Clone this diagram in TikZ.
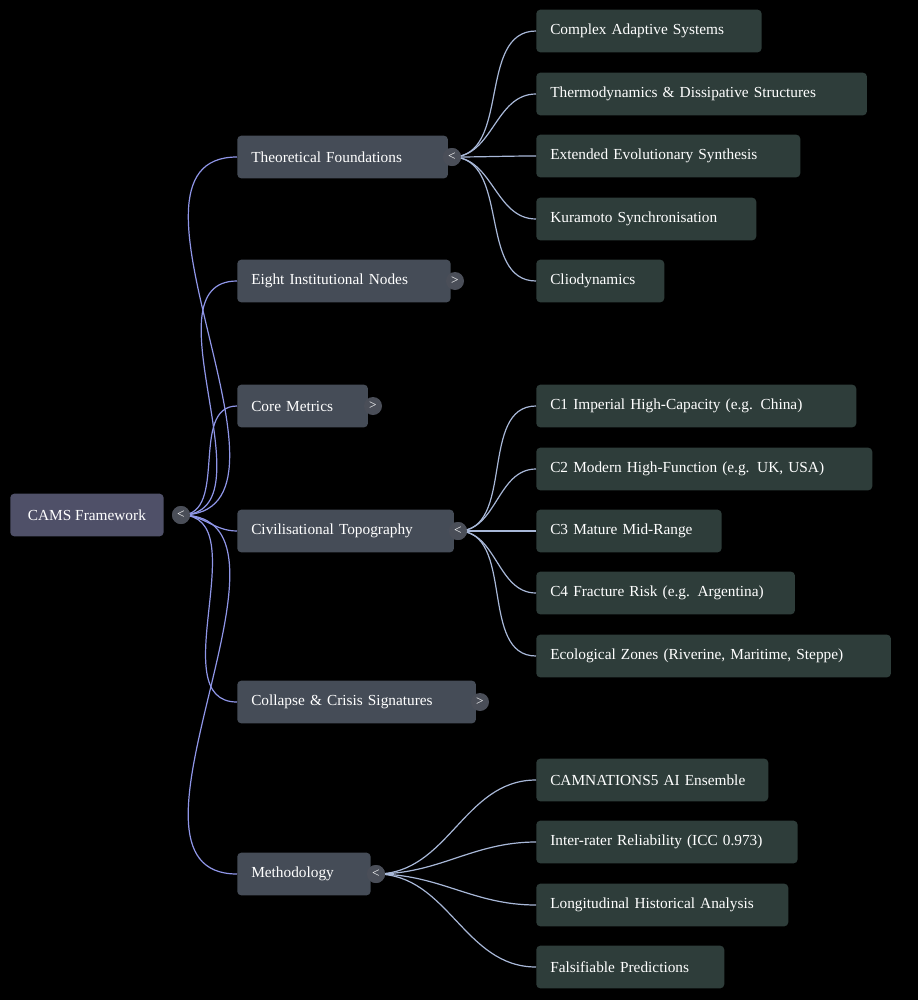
\documentclass[tikz,border=0pt]{standalone}
\usepackage{fontspec}
\setmainfont{Liberation Serif}
\definecolor{rootfill}{HTML}{4F5068}
\definecolor{branchfill}{HTML}{454C57}
\definecolor{leaffill}{HTML}{2E3D3A}
\definecolor{rootline}{HTML}{8F96E8}
\definecolor{leafline}{HTML}{A8B8D8}
\definecolor{togfill}{HTML}{4A4E58}
\tikzstyle{root}=[rectangle,rounded corners=3pt,
                  fill=rootfill,text=white,
                  minimum height=32pt,minimum width=115pt,
                  anchor=west,font=\fontsize{11.5}{13}\selectfont]
\tikzstyle{branch}=[rectangle,rounded corners=3pt,
                    fill=branchfill,text=white,
                    minimum height=32pt,text width=#1,
                    inner xsep=10.5pt,anchor=west,
                    font=\fontsize{11.5}{13}\selectfont]
\tikzstyle{leaf}=[rectangle,rounded corners=3pt,
                  fill=leaffill,text=white,
                  minimum height=32pt,text width=#1,
                  inner xsep=10.5pt,anchor=west,
                  font=\fontsize{11.5}{13}\selectfont]
\tikzstyle{toggle}=[circle,fill=togfill,text=white,
                    minimum size=13.5pt,inner sep=0pt,
                    font=\fontsize{10}{10}\selectfont]
\tikzstyle{link}=[rootline,line width=0.9pt,out=0,in=180]
\tikzstyle{sublink}=[leafline,line width=0.9pt,out=0,in=180]

\begin{document}
\begin{tikzpicture}[x=0.75pt,y=-0.75pt]
  \fill[black] (0,0) rectangle (918,1000);
  \useasboundingbox (0,0) rectangle (918,1000);

  % root
  \node (cams) [root] at (10,515) {CAMS Framework};
  \node (t_cams) [toggle] at (181,515) {<};

  % first level
  \node (theory) [branch=137pt] at (237,157) {Theoretical Foundations};
  \node (nodes) [branch=139pt] at (237,281) {Eight Institutional Nodes};
  \node (metrics) [branch=77pt] at (237,406) {Core Metrics};
  \node (topo) [branch=141.5pt] at (237,531) {Civilisational Topography};
  \node (crisis) [branch=158pt] at (237,702) {Collapse \& Crisis Signatures};
  \node (method) [branch=79pt] at (237,874) {Methodology};

  \node (t_theory) [toggle] at (452,157) {<};
  \node (t_nodes) [toggle] at (455,281) {>};
  \node (t_metrics) [toggle] at (373,406) {>};
  \node (t_topo) [toggle] at (458,531) {<};
  \node (t_crisis) [toggle] at (480,702) {>};
  \node (t_method) [toggle] at (376,874) {<};

  % leaves
  \node (cas) [leaf=148pt] at (536,31) {Complex Adaptive Systems};
  \node (thermo) [leaf=227pt] at (536,94) {Thermodynamics \& Dissipative Structures};
  \node (ees) [leaf=177pt] at (536,156) {Extended Evolutionary Synthesis};
  \node (kura) [leaf=144pt] at (536,219) {Kuramoto Synchronisation};
  \node (clio) [leaf=75pt] at (536,281) {Cliodynamics};

  \node (c1) [leaf=219pt] at (536,406) {C1 Imperial High-Capacity (e.g. China)};
  \node (c2) [leaf=231pt] at (536,469) {C2 Modern High-Function (e.g. UK, USA)};
  \node (c3) [leaf=118pt] at (536,531) {C3 Mature Mid-Range};
  \node (c4) [leaf=173pt] at (536,593) {C4 Fracture Risk (e.g. Argentina)};
  \node (eco) [leaf=245pt] at (536,656) {Ecological Zones (Riverine, Maritime, Steppe)};

  \node (ai) [leaf=153pt] at (536,780) {CAMNATIONS5 AI Ensemble};
  \node (icc) [leaf=175pt] at (536,842) {Inter-rater Reliability (ICC 0.973)};
  \node (longi) [leaf=168pt] at (536,905) {Longitudinal Historical Analysis};
  \node (falsi) [leaf=120pt] at (536,967) {Falsifiable Predictions};

  % connectors
  \begin{scope}[on background layer/.style={}]
  \foreach \b in {theory,nodes,metrics,topo,crisis,method}
    \draw[link] (t_cams.center) to (\b.west);
  \foreach \l in {cas,thermo,ees,kura,clio}
    \draw[sublink] (t_theory.center) to (\l.west);
  \foreach \l in {c1,c2,c3,c4,eco}
    \draw[sublink] (t_topo.center) to (\l.west);
  \foreach \l in {ai,icc,longi,falsi}
    \draw[sublink] (t_method.center) to (\l.west);
  \end{scope}

  % toggles redrawn on top of the lines
  \node [toggle] at (t_cams) {<};
  \node [toggle] at (t_theory) {<};
  \node [toggle] at (t_topo) {<};
  \node [toggle] at (t_method) {<};
\end{tikzpicture}
\end{document}
